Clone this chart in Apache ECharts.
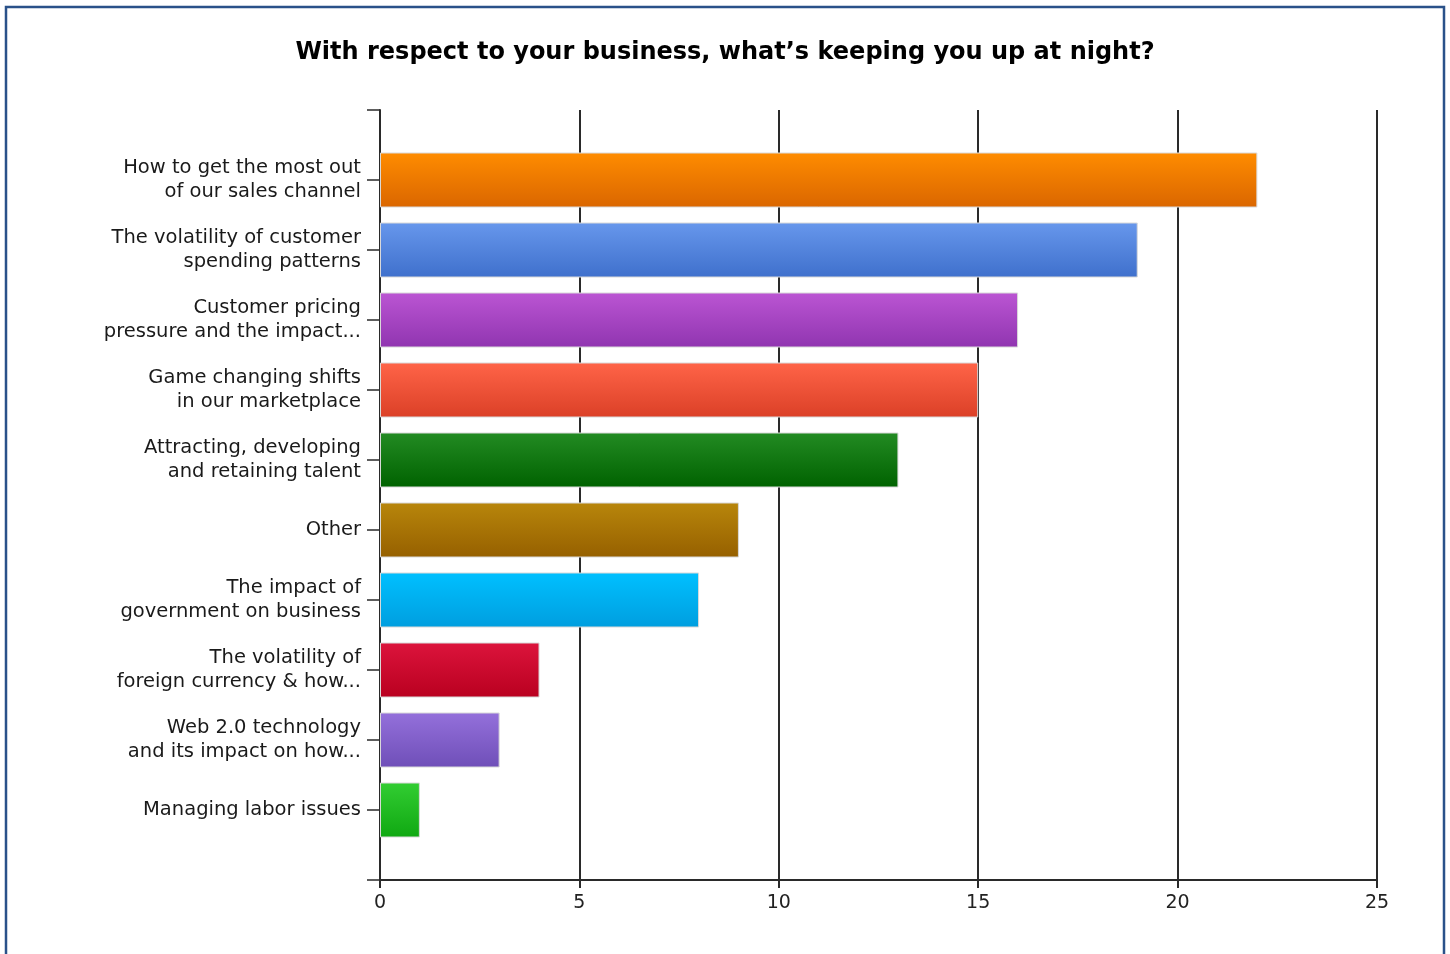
<!DOCTYPE html>
<html>
<head>
<meta charset="utf-8">
<script src="https://cdn.jsdelivr.net/npm/echarts@6/dist/echarts.min.js"></script>
<style>
  html, body { margin: 0; padding: 0; background: #fff; }
  #chart { width: 1450px; height: 954px; }
</style>
</head>
<body>
<div id="chart"></div>
<script>
// Survey answers, top to bottom
const categories = [
  'How to get the most out\nof our sales channel',
  'The volatility of customer\nspending patterns',
  'Customer pricing\npressure and the impact...',
  'Game changing shifts\nin our marketplace',
  'Attracting, developing\nand retaining talent',
  'Other',
  'The impact of\ngovernment on business',
  'The volatility of\nforeign currency & how...',
  'Web 2.0 technology\nand its impact on how...',
  'Managing labor issues'
];
const responses = [22, 19, 16, 15, 13, 9, 8, 4, 3, 1];
const xTicks = [0, 5, 10, 15, 20, 25];

// Bar fills: [top, bottom] of each vertical gradient
const barColors = [
  ['#ff8c00', '#da6600'],
  ['#6797ec', '#3f70cc'],
  ['#bb55d3', '#9035b0'],
  ['#ff6448', '#db4027'],
  ['#238b23', '#006200'],
  ['#b8860b', '#966000'],
  ['#00c0ff', '#009edf'],
  ['#dc143c', '#b90020'],
  ['#9470db', '#6f4fb8'],
  ['#32cd32', '#10a812']
];

// Blank slots at both ends leave half-gap padding inside the plot frame
const yData = [''].concat(categories, ['']);
const barData = [null].concat(responses.map((v, i) => ({
  value: v,
  itemStyle: {
    color: new echarts.graphic.LinearGradient(0, 0, 0, 1, [
      { offset: 0, color: barColors[i][0] },
      { offset: 1, color: barColors[i][1] }
    ])
  }
})), [null]);

const font = 'DejaVu Sans, Verdana, sans-serif';
const chart = echarts.init(document.getElementById('chart'), null, { renderer: 'canvas' });
chart.setOption({
  backgroundColor: '#ffffff',
  animation: false,
  title: {
    text: 'With respect to your business, what\u2019s keeping you up at night?',
    left: 'center',
    top: 36,
    textStyle: { fontFamily: font, fontSize: 24, fontWeight: 'bold', color: '#000' }
  },
  graphic: [{
    type: 'rect',
    shape: { x: 6, y: 7, width: 1438, height: 1000 },
    style: { fill: 'none', stroke: '#2a5189', lineWidth: 2.5 },
    silent: true
  }],
  grid: { left: 380, right: 73, top: 110, bottom: 74, containLabel: false },
  xAxis: {
    type: 'value',
    min: xTicks[0],
    max: xTicks[xTicks.length - 1],
    interval: xTicks[1] - xTicks[0],
    axisLine: { show: true, lineStyle: { color: '#2a2a2a', width: 2 } },
    axisTick: { show: true, length: 8, lineStyle: { color: '#2a2a2a', width: 2 } },
    axisLabel: { margin: 14, fontFamily: font, fontSize: 19, color: '#222' },
    splitLine: { show: true, lineStyle: { color: '#2a2a2a', width: 2 } }
  },
  yAxis: {
    type: 'category',
    inverse: true,
    boundaryGap: false,
    data: yData,
    axisLine: { show: true, lineStyle: { color: '#2a2a2a', width: 2 } },
    axisTick: { show: true, length: 13, lineStyle: { color: '#2a2a2a', width: 1.5 } },
    axisLabel: {
      margin: 19,
      interval: 0,
      fontFamily: font,
      fontSize: 19.5,
      lineHeight: 24,
      padding: [4, 0, 0, 0],
      color: '#1a1a1a',
      align: 'right'
    },
    splitLine: { show: false }
  },
  series: [{
    type: 'bar',
    data: barData,
    barWidth: 55,
    itemStyle: { borderColor: '#d9d9d9', borderWidth: 1 }
  }]
});
</script>
</body>
</html>
